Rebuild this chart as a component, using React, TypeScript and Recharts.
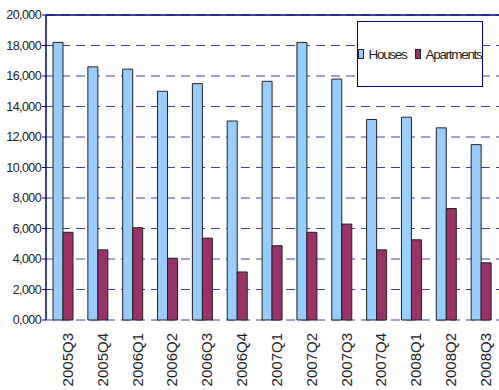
import React from "react";
import {
  BarChart,
  Bar,
  XAxis,
  YAxis,
  CartesianGrid,
  ReferenceLine,
} from "recharts";

// Quarterly sales volumes
const quarters = [
  "2005Q3", "2005Q4", "2006Q1", "2006Q2", "2006Q3", "2006Q4", "2007Q1",
  "2007Q2", "2007Q3", "2007Q4", "2008Q1", "2008Q2", "2008Q3",
];
const houses = [
  18200, 16600, 16450, 15000, 15500, 13050, 15650, 18200, 15800, 13150, 13300,
  12600, 11500,
];
const apartments = [
  5750, 4600, 6050, 4050, 5370, 3150, 4870, 5750, 6290, 4600, 5260, 7310, 3750,
];

const yTicks = [0, 2000, 4000, 6000, 8000, 10000, 12000, 14000, 16000, 18000, 20000];
const yTickLabels = [
  "0,000", "2,000", "4,000", "6,000", "8,000", "10,000", "12,000", "14,000",
  "16,000", "18,000", "20,000",
];
// Category boundaries for the tick marks between quarters
const boundaryTicks = quarters.map((_, i) => i).concat([quarters.length]);

const series = [
  { key: "Houses", color: "#99CCFF" },
  { key: "Apartments", color: "#993366" },
];

const data = quarters.map((q, i) => ({
  quarter: q,
  Houses: houses[i],
  Apartments: apartments[i],
}));

const NAVY = "#000080";
const FONT = "'Liberation Sans', Arial, sans-serif";

const QuarterTick = (props: any) => {
  const { x, y, payload } = props;
  return (
    <g transform={`translate(${x + 4},${y})`}>
      <text
        transform="rotate(-90)"
        x={-6}
        y={0}
        dy="0.36em"
        textAnchor="end"
        fontFamily={FONT}
        fontSize={15}
        fill="#222"
      >
        {payload.value}
      </text>
    </g>
  );
};

const NoLabel = () => <g />;

const LegendBox = () => (
  <div
    style={{
      position: "absolute",
      left: 357,
      top: 21,
      width: 124,
      height: 64,
      border: `1px solid ${NAVY}`,
      background: "#fff",
      display: "flex",
      alignItems: "center",
      justifyContent: "center",
      fontFamily: FONT,
      fontSize: 13.5,
      letterSpacing: -1.3,
      color: "#222",
    }}
  >
    {series.map((s, i) => (
      <span
        key={s.key}
        style={{
          display: "inline-flex",
          alignItems: "center",
          marginLeft: i === 0 ? 0 : 9,
        }}
      >
        <span
          style={{
            display: "inline-block",
            width: 4,
            height: 8,
            background: s.color,
            border: "1px solid #222",
            marginRight: 4,
          }}
        />
        {s.key}
      </span>
    ))}
  </div>
);

export default function App() {
  return (
    <div style={{ position: "absolute", left: 0, top: 0, width: 499, height: 390 }}>
      <BarChart
        width={499}
        height={390}
        data={data}
        margin={{ top: 15, right: 0, bottom: 0, left: 0 }}
        barSize={10}
        barGap={0}
      >
        <CartesianGrid
          vertical={false}
          stroke={NAVY}
          strokeOpacity={0.75}
          strokeDasharray="9 6"
        />
        <XAxis
          xAxisId="bounds"
          type="number"
          dataKey={() => 0}
          domain={[0, quarters.length]}
          ticks={boundaryTicks}
          interval={0}
          allowDataOverflow
          height={0}
          axisLine={{ stroke: NAVY, strokeWidth: 1.5 }}
          tickLine={{ stroke: NAVY }}
          tickSize={5}
          tick={<NoLabel />}
        />
        <XAxis
          dataKey="quarter"
          height={70}
          axisLine={false}
          tickLine={false}
          tickSize={5}
          interval={0}
          tick={<QuarterTick />}
        />
        <YAxis
          domain={[0, 20000]}
          ticks={yTicks}
          width={46}
          interval={0}
          axisLine={{ stroke: NAVY, strokeWidth: 1.5 }}
          tickLine={{ stroke: NAVY }}
          tickSize={4}
          tickMargin={1}
          tickFormatter={(v: number) => yTickLabels[yTicks.indexOf(v)]}
          tick={{
            fontFamily: FONT,
            fontSize: 12.5,
            fill: "#222",
            letterSpacing: -0.6,
          }}
        />
        <ReferenceLine y={20000} stroke={NAVY} strokeWidth={1.5} />
        {series.map((s) => (
          <Bar
            key={s.key}
            dataKey={s.key}
            fill={s.color}
            stroke="#222"
            strokeWidth={1}
            isAnimationActive={false}
          />
        ))}
      </BarChart>
      <LegendBox />
    </div>
  );
}
